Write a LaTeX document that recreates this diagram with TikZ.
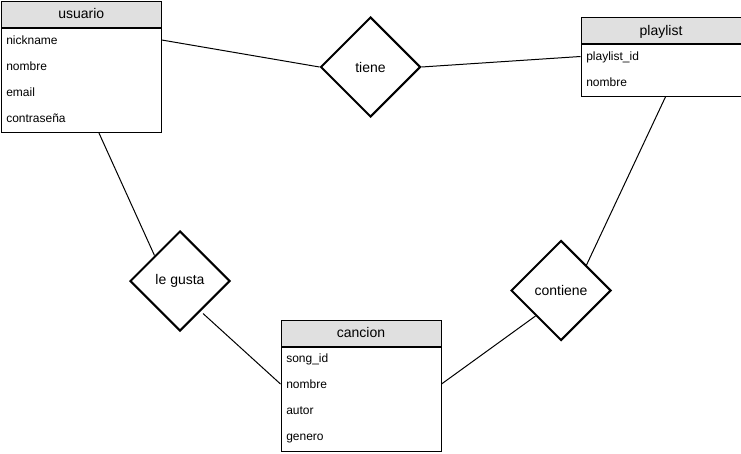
\documentclass[tikz,border=0pt]{standalone}
\usepackage{fontspec}
\setmainfont{Liberation Sans}
\usetikzlibrary{shapes.geometric,calc}
\definecolor{hdrgray}{HTML}{E0E0E0}
\begin{document}
\begin{tikzpicture}[x=0.75pt,y=-0.75pt,
 hdr/.style={draw=black,line width=0.75pt,fill=hdrgray,minimum width=120pt,minimum height=19.5pt,anchor=north west,inner sep=0pt,font=\fontsize{10.5}{12}\selectfont,text height=1.5ex,text depth=.25ex},
 entbody/.style={draw=black,line width=0.75pt,fill=white,minimum width=120pt,anchor=north,inner sep=0pt},
 attr/.style={anchor=west,inner sep=0pt,font=\fontsize{9}{11}\selectfont,text height=1.5ex,text depth=.25ex},
 rel/.style={diamond,draw=black,line width=1.5pt,minimum width=75pt,minimum height=75pt,inner sep=0pt,font=\fontsize{10.5}{12}\selectfont},
 link/.style={draw=black,line width=0.75pt}]
\path[use as bounding box] (0,0) rectangle (741,453);

% usuario
\node[hdr] (uhdr) at (0.75,0.75) {usuario};
\node[entbody,minimum height=78pt] (ubody) at (uhdr.south) {};
\node[attr] (u1) at (6,40) {nickname};
\node[attr] (u2) at (6,66) {nombre};
\node[attr] (u3) at (6,92) {email};
\node[attr] (u4) at (6,118) {contraseña};

% playlist
\node[hdr] (phdr) at (580.5,17.5) {playlist};
\node[entbody,minimum height=38.5pt] (pbody) at (phdr.south) {};
\node[attr] (p1) at (586,56.5) {playlist\_id};
\node[attr] (p2) at (586,82.5) {nombre};

% cancion
\node[hdr] (chdr) at (280.5,319.5) {cancion};
\node[entbody,minimum height=78pt] (cbody) at (chdr.south) {};
\node[attr] (c1) at (286,358) {song\_id};
\node[attr] (c2) at (286,384) {nombre};
\node[attr] (c3) at (286,410) {autor};
\node[attr] (c4) at (286,436) {genero};

% relationships
\node[rel] (tiene) at (370.5,67) {tiene};
\node[rel] (lgusta) at (180,281) {le gusta};
\node[rel] (contiene) at (561,290.5) {contiene};

% links
\draw[link] (ubody.east |- u1) -- (tiene.west);
\draw[link] (tiene.east) -- (pbody.west |- p1);
\draw[link] ($(pbody.south)+(4.5,0)$) -- (contiene.north east);
\draw[link] ($(ubody.south)+(17.6,0)$) -- (lgusta.north west);
\draw[link] ($(lgusta.south east)+(-2.5,7)$) -- (cbody.west |- c2);
\draw[link] (cbody.east |- c2) -- (contiene.south west);
\end{tikzpicture}
\end{document}
